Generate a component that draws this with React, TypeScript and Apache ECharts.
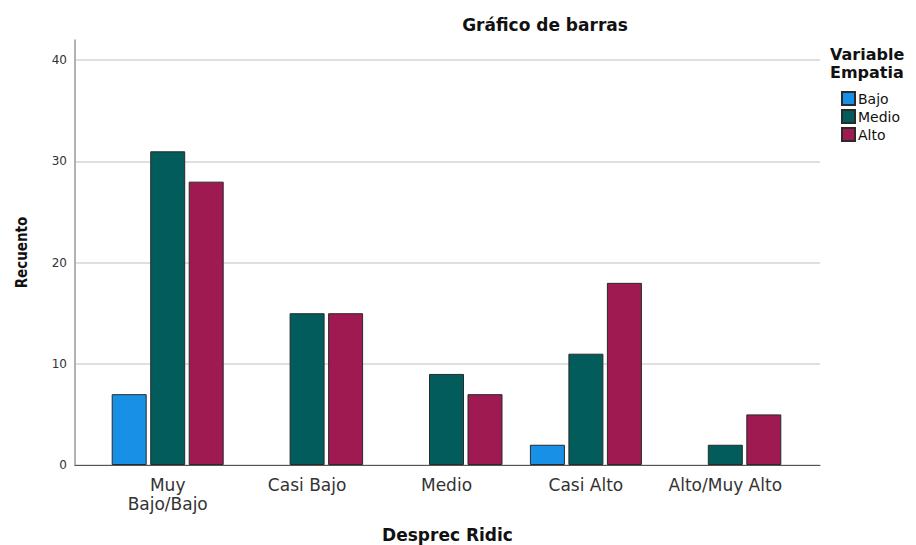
import React, { useEffect, useRef } from "react";
import * as echarts from "echarts";

const categories = ["Muy\nBajo/Bajo", "Casi Bajo", "Medio", "Casi Alto", "Alto/Muy Alto"];
const bajoValues = [7, null, null, 2, null];
const medioValues = [31, 15, 9, 11, 2];
const altoValues = [28, 15, 7, 18, 5];
const seriesNames = ["Bajo", "Medio", "Alto"];
const seriesColors = ["#1890E6", "#015C5B", "#9E1A51"];
const yTicks = [0, 10, 20, 30, 40];

const FONT = "'DejaVu Sans', 'Liberation Sans', sans-serif";

export default function App() {
  const ref = useRef<HTMLDivElement>(null);
  useEffect(() => {
    document.body.style.margin = "0";
    const chart = echarts.init(ref.current!, null, { renderer: "svg" });
    const values = [bajoValues, medioValues, altoValues];
    chart.setOption({
      animation: false,
      backgroundColor: "#ffffff",
      grid: [
        { left: 75, right: 96, top: 40, bottom: 80, outerBoundsMode: "none", containLabel: false },
        { left: 98, right: 121, top: 40, bottom: 80, outerBoundsMode: "none", containLabel: false },
      ],
      xAxis: [
        {
          gridIndex: 0,
          type: "value",
          min: 0,
          max: 1,
          axisLine: { show: true, lineStyle: { color: "#555", width: 1.2 } },
          axisTick: { show: false },
          axisLabel: { show: false },
          splitLine: { show: false },
          name: "Desprec Ridic",
          nameLocation: "middle",
          nameGap: 61,
          nameTextStyle: { fontFamily: FONT, fontWeight: "bold", fontSize: 17, color: "#111" },
        },
        {
          gridIndex: 1,
          type: "category",
          data: categories,
          axisLine: { show: false },
          axisTick: { show: false },
          axisLabel: {
            fontFamily: FONT,
            fontSize: 17,
            color: "#333",
            lineHeight: 19,
            margin: 10,
            interval: 0,
          },
        },
      ],
      yAxis: [
        {
          gridIndex: 0,
          type: "value",
          min: 0,
          max: 42,
          interval: 10,
          name: "Recuento",
          nameLocation: "middle",
          nameGap: 46,
          nameTextStyle: {
            fontFamily: "'DejaVu Sans Condensed', 'Liberation Sans Narrow', sans-serif",
            fontWeight: "bold",
            fontSize: 15,
            color: "#111",
          },
          axisLine: { show: true, lineStyle: { color: "#999", width: 1.5 } },
          axisTick: { show: false },
          axisLabel: {
            fontFamily: FONT,
            fontSize: 12,
            color: "#333",
            margin: 8,
            showMaxLabel: false,
            formatter: (v: number) => (yTicks.includes(v) ? String(v) : ""),
          },
          splitLine: {
            show: true,
            showMaxLine: false,
            lineStyle: { color: ["#d4d4d4", "#d4d4d4", "#d4d4d4", "#d4d4d4", "#d4d4d4", "transparent"], width: 1.5 },
          },
        },
        {
          gridIndex: 1,
          type: "value",
          min: 0,
          max: 42,
          show: false,
          splitLine: { show: false },
        },
      ],
      legend: {
        data: seriesNames,
        orient: "vertical",
        left: 836,
        top: 86,
        itemWidth: 13,
        itemHeight: 13,
        itemGap: 3,
        icon: "rect",
        textStyle: { fontFamily: FONT, fontSize: 14, color: "#111", padding: [0, 0, 0, -2] },
      },
      graphic: [
        {
          type: "text",
          x: 545,
          y: 25,
          style: {
            text: "Gráfico de barras",
            font: `bold 17px ${FONT}`,
            fill: "#111",
            textAlign: "center",
            textVerticalAlign: "middle",
          },
        },
        {
          type: "text",
          x: 830,
          y: 54,
          style: {
            text: "Variable",
            font: `bold 16px ${FONT}`,
            fill: "#111",
            textAlign: "left",
            textVerticalAlign: "middle",
          },
        },
        {
          type: "text",
          x: 830,
          y: 72,
          style: {
            text: "Empatia",
            font: `bold 16px ${FONT}`,
            fill: "#111",
            textAlign: "left",
            textVerticalAlign: "middle",
          },
        },
      ],
      series: seriesNames.map((name, i) => ({
        name,
        type: "bar",
        xAxisIndex: 1,
        yAxisIndex: 1,
        data: values[i],
        barWidth: 35,
        barGap: "10%",
        itemStyle: { color: seriesColors[i], borderColor: "#2a2a2a", borderWidth: 1 },
      })),
    });
    return () => chart.dispose();
  }, []);
  return <div ref={ref} style={{ width: 916, height: 545 }} />;
}
